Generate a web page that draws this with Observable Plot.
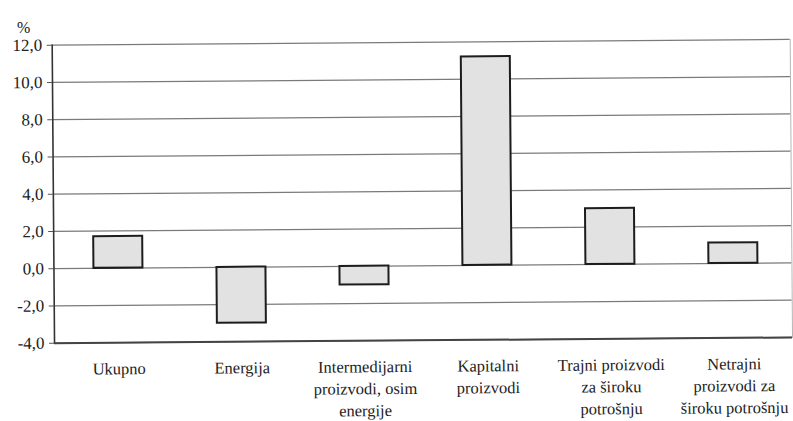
<!DOCTYPE html>
<html>
<head>
<meta charset="utf-8">
<script src="https://cdn.jsdelivr.net/npm/d3@7"></script>
<script src="https://cdn.jsdelivr.net/npm/@observablehq/plot@0.6"></script>
<style>
  html, body { margin: 0; padding: 0; background: #fff; }
  #chart svg { display: block; transform: rotate(-0.45deg); transform-origin: 50% 50%; }
  #chart svg, #chart svg text {
    font-family: "Liberation Serif", "Times New Roman", Times, "DejaVu Serif", "Noto Serif", serif !important;
  }
</style>
</head>
<body>
<div id="chart"></div>
<script>
// Annual change by product group, in %
const categories = [
  "Ukupno",
  "Energija",
  "Intermedijarni\nproizvodi, osim\nenergije",
  "Kapitalni\nproizvodi",
  "Trajni proizvodi\nza široku\npotrošnju",
  "Netrajni\nproizvodi za\nširoku potrošnju"
];
const values = [1.7, -3.0, -1.0, 11.2, 3.0, 1.1];
const yTicks = [-4, -2, 0, 2, 4, 6, 8, 10, 12];
const unitLabel = "%";

const data = categories.map((c, i) => ({category: c, value: values[i]}));
const fmt = v => d3.format(".1f")(v).replace("−", "-").replace(".", ",");

const chart = Plot.plot({
  width: 793,
  height: 421,
  marginLeft: 53,
  marginRight: 2,
  marginTop: 42,
  marginBottom: 81,
  style: {fontSize: "16px", color: "#222", background: "#fff"},
  x: {domain: categories, range: [55, 795], paddingInner: 0.6, paddingOuter: 0.3},
  y: {domain: [-4, 12]},
  marks: [
    // horizontal grid
    Plot.ruleY(yTicks, {stroke: "#7a7a7a", strokeWidth: 1.2}),
    // plot border: dark left and bottom, light right
    Plot.frame({anchor: "right", stroke: "#b5b5b5", strokeWidth: 1}),
    Plot.frame({anchor: "left", stroke: "#333", strokeWidth: 1.6}),
    Plot.ruleY([-4], {stroke: "#444", strokeWidth: 2}),
    Plot.barY(data, {x: "category", y: "value", fill: "#e2e2e2", stroke: "#1c1c1c", strokeWidth: 2}),
    Plot.axisY({ticks: yTicks, tickFormat: fmt, tickSize: 5, tickPadding: 5, label: null, stroke: "#555", fill: "#222", fontSize: 17}),
    Plot.axisX({tickSize: 0, tickPadding: 16, label: null, lineHeight: 1.33, fill: "#222", fontSize: 16.5}),
    Plot.text([unitLabel], {frameAnchor: "top-left", dx: -35, dy: -24, fill: "#222", fontSize: 16})
  ]
});
document.getElementById("chart").appendChild(chart);
</script>
</body>
</html>
